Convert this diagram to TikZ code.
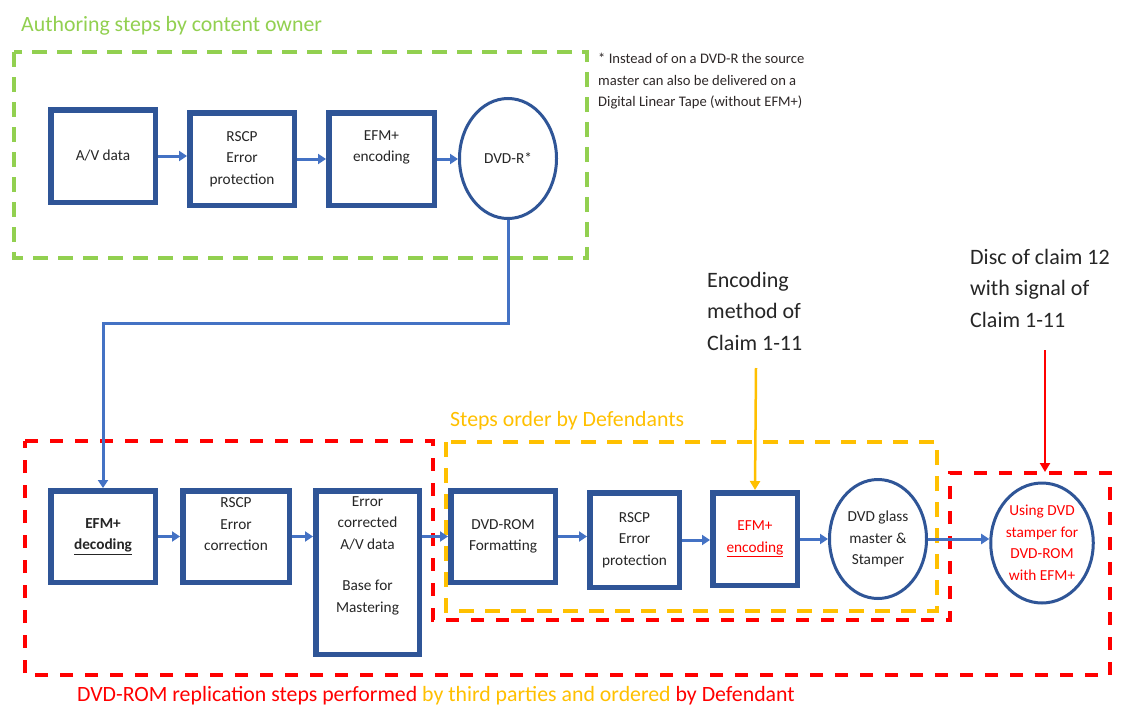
\documentclass[tikz,border=0pt]{standalone}
\usepackage{fontspec}
\setmainfont{Carlito}
\usetikzlibrary{arrows.meta,shapes.geometric}
\definecolor{navy}{HTML}{2F5597}
\definecolor{conn}{HTML}{4472C4}
\definecolor{grn}{HTML}{92D050}
\definecolor{yel}{HTML}{FFC000}
\definecolor{rd}{HTML}{FF0000}
\definecolor{txt}{HTML}{262626}
\definecolor{notecol}{HTML}{2E2828}
\newcommand{\boxfont}{\fontsize{15.3}{21.5}\selectfont}
\newcommand{\bigfont}{\fontsize{22}{31.5}\selectfont}
\tikzset{
  stepbox/.style={draw=navy, line width=5.5pt, inner sep=0pt, align=center, font=\boxfont, text=txt},
  discnode/.style={ellipse, draw=navy, line width=3pt, inner sep=0pt, align=center, font=\boxfont, text=txt},
  flow/.style={draw=conn, line width=3pt, -{Triangle[length=8pt,width=10pt]}},
  yarrow/.style={draw=yel, line width=2.5pt, -{Triangle[length=9pt,width=10pt]}},
  rarrow/.style={draw=rd, line width=2.5pt, -{Triangle[length=9pt,width=10pt]}},
  greenframe/.style={draw=grn, line width=4pt, dash pattern=on 15pt off 10pt},
  redframe/.style={draw=rd, line width=4pt, dash pattern=on 13pt off 12pt},
  yellowframe/.style={draw=yel, line width=4.5pt, dash pattern=on 15pt off 11pt},
  biglabel/.style={font=\bigfont, text=txt, align=left, inner sep=0pt},
  titlelabel/.style={font=\fontsize{21.8}{26}\selectfont, inner sep=0pt},
}
\begin{document}
\begin{tikzpicture}[x=1pt,y=-1pt]
\useasboundingbox[fill=white] (0,0) rectangle (1125,707);

% frames
\draw[greenframe] (14,52) rectangle (587,258);
\draw[redframe] (25,441) -- (433,441) -- (433,620) -- (950,620) -- (950,473) -- (1110,473) -- (1110,675) -- (25,675) -- cycle;
\draw[yellowframe] (446,442) rectangle (937,611);

% titles
\node[titlelabel, text=grn, anchor=west] (ttop) at (21,26) {Authoring steps by content owner};
\node[titlelabel, text=yel, anchor=west] (tsteps) at (450,421) {Steps order by Defendants};
\node[titlelabel, anchor=west] (tbottom) at (77,696) {\textcolor{rd}{DVD-ROM replication steps performed}\ \textcolor{yel}{by third parties and ordered}\ \textcolor{rd}{by Defendant}};

% note
\node[font=\fontsize{14.6}{21.5}\selectfont, text=notecol, align=left, inner sep=0pt, anchor=north west] (note) at (598,53) {* Instead of on a DVD-R the source\\master can also be delivered on a\\Digital Linear Tape (without EFM+)};

% top row
\node[stepbox, minimum width=104.5pt, minimum height=92.5pt] (av) at (103,156) {A/V data};
\node[stepbox, minimum width=104.5pt, minimum height=92.5pt] (rscp1) at (242,159) {RSCP\\Error\\protection};
\node[stepbox, minimum width=105.5pt, minimum height=92.5pt] (efm1) at (381.5,159) {EFM+\\encoding\\[4pt]};
\node[discnode, minimum width=97pt, minimum height=120pt] (dvdr) at (508,158.5) {DVD-R*};

\draw[flow] (av.east) -- (av.east -| rscp1.west);
\draw[flow] (rscp1.east) -- (rscp1.east -| efm1.west);
\draw[flow] (efm1.east) -- (efm1.east -| dvdr.west);

% bottom row
\node[stepbox, minimum width=104.5pt, minimum height=91.5pt] (efmdec) at (103,536.5) {\textbf{EFM+}\\\textbf{\underline{decoding}}};
\node[stepbox, minimum width=106.5pt, minimum height=91.5pt] (rscp2) at (236,536.5) {RSCP\\Error\\correction\\[3pt]};
\node[stepbox, minimum width=103.5pt, minimum height=163.5pt] (ec) at (367.5,572.5) {};
\node[font=\boxfont, text=txt, align=center, inner sep=0pt, anchor=north] (ectext) at (367.5,496) {Error\\corrected\\A/V data\\[20pt]Base for\\Mastering};
\node[stepbox, minimum width=104.5pt, minimum height=91.5pt] (fmt) at (503,536.5) {DVD-ROM\\Formatting};
\node[stepbox, minimum width=89.5pt, minimum height=94.5pt] (rscp3) at (634.5,540) {RSCP\\Error\\protection};
\node[stepbox, minimum width=84.5pt, minimum height=92.5pt, text=rd] (efm2) at (755,539) {EFM+\\\underline{encoding}};
\node[discnode, minimum width=97pt, minimum height=119pt] (glass) at (878,539) {DVD glass\\master \&\\Stamper};
\node[discnode, minimum width=98pt, minimum height=120pt, text=rd] (using) at (1042,543) {Using DVD\\stamper for\\DVD-ROM\\with EFM+};

\coordinate (bend) at (103,323);
\draw[flow] (dvdr.south) |- (bend) -- (efmdec.north);
\draw[flow] (efmdec.east) -- (efmdec.east -| rscp2.west);
\draw[flow] (rscp2.east) -- (rscp2.east -| ec.west);
\draw[flow] (fmt.west -| ec.east) -- (fmt.west);
\draw[flow] (fmt.east) -- (fmt.east -| rscp3.west);
\draw[flow] (rscp3.east) -- (rscp3.east -| efm2.west);
\draw[flow] (efm2.east) -- (efm2.east -| glass.west);
\draw[flow] (glass.east) -- (glass.east -| using.west);

% claim labels
\node[biglabel, anchor=north west] (enc) at (707,272) {Encoding\\method of\\Claim 1-11};
\node[biglabel, anchor=north west] (disc) at (970,249) {Disc of claim 12\\with signal of\\Claim 1-11};
\coordinate (encstart) at (756,368);
\draw[yarrow] (encstart) -- (efm2.north);
\coordinate (discstart) at (1045,350);
\coordinate (discend) at (1045,472);
\draw[rarrow] (discstart) -- (discend);
\end{tikzpicture}
\end{document}
